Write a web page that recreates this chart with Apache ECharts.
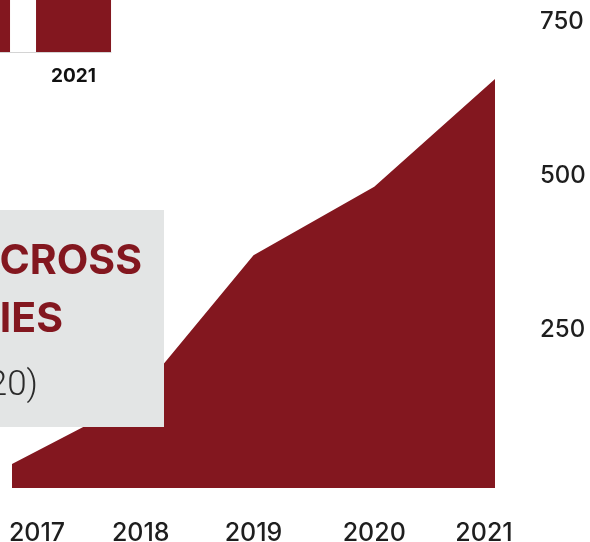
<!DOCTYPE html>
<html>
<head>
<meta charset="utf-8">
<script src="https://cdn.jsdelivr.net/npm/echarts@6/dist/echarts.min.js"></script>
<style>
html,body{margin:0;padding:0;background:#fff;}
#c{width:590px;height:542px;}
</style>
</head>
<body>
<div id="c"></div>
<script>
const years = ['2017', '2018', '2019', '2020', '2021'];
const values = [39, 141, 378, 489, 664];
const yMax = 750;
const yStep = 250;
const barYears = [2020, 2021];
const barValues = [100, 100];
const titleLines = ['GROWTH ACROSS', 'COUNTRIES', '(2016-2020)'];

const RED = '#83171f';
const FONT = 'Inter';

const xRich = {};
const shifts = [[0,0,0,50],[0,0,0,16],[0,0,0,0],[0,0,0,0],[0,22,0,0]];
shifts.forEach((p, i) => {
  xRich['p' + i] = { padding: p, fontFamily: FONT, fontSize: 25, fontWeight: 500, color: '#1e1e1e' };
});

const chart = echarts.init(document.getElementById('c'));
chart.setOption({
  animation: false,
  backgroundColor: '#fff',
  grid: [
    { left: 12, right: 95, top: 26, bottom: 54, containLabel: false, outerBoundsMode: 'none' },
    { left: 0, right: 479, top: 0, bottom: 490, containLabel: false, outerBoundsMode: 'none' }
  ],
  xAxis: [
    {
      gridIndex: 0, type: 'category', data: years, boundaryGap: false,
      axisLine: { show: false }, axisTick: { show: false },
      axisLabel: {
        margin: 45, verticalAlign: 'middle', interval: 0,
        formatter: (v, i) => '{p' + i + '|' + v + '}',
        rich: xRich
      }
    },
    {
      gridIndex: 1, type: 'value', min: 2020.272, max: 2021.371,
      splitLine: { show: false },
      axisLine: { show: true, lineStyle: { color: '#d4d4d4', width: 1 } },
      axisTick: { show: false },
      axisLabel: {
        customValues: barYears,
        margin: 24, verticalAlign: 'middle',
        formatter: (v) => (v === 2020 ? '{b0|' : '{b1|') + v + '}',
        rich: {
          b0: { fontFamily: FONT, fontWeight: 'bold', fontSize: 19, color: '#3a6fa0', padding: [0,0,0,14] },
          b1: { fontFamily: FONT, fontWeight: 'bold', fontSize: 19, color: '#111' }
        }
      }
    }
  ],
  yAxis: [
    {
      gridIndex: 0, type: 'value', position: 'right', min: 0, max: yMax, interval: yStep,
      axisLine: { show: false }, axisTick: { show: false }, splitLine: { show: false },
      axisLabel: {
        showMinLabel: false, margin: 45, verticalAlign: 'middle',
        formatter: (v) => '{v|' + v + '}',
        rich: { v: { fontFamily: FONT, fontSize: 24, fontWeight: 500, color: '#1e1e1e', padding: [0, 0, 8, 0] } }
      }
    },
    {
      gridIndex: 1, type: 'value', min: 0, max: 100, show: false
    }
  ],
  series: [
    {
      type: 'line', xAxisIndex: 0, yAxisIndex: 0, data: values,
      symbol: 'none', lineStyle: { width: 0 },
      areaStyle: { color: RED, opacity: 1 }, itemStyle: { color: RED }
    },
    {
      type: 'bar', xAxisIndex: 1, yAxisIndex: 1,
      data: barYears.map((y, i) => [y, barValues[i]]),
      barWidth: 75, itemStyle: { color: RED }
    }
  ],
  graphic: {
    elements: [
      { type: 'rect', z: 100, shape: { x: -10, y: 210, width: 174, height: 217 }, style: { fill: '#e3e5e5' } },
      { type: 'text', z: 101, x: 142, y: 262, style: { text: titleLines[0], textAlign: 'right', textVerticalAlign: 'middle', fontFamily: FONT, fontWeight: 'bold', fontSize: 41, fill: RED } },
      { type: 'text', z: 101, x: 63, y: 320, style: { text: titleLines[1], textAlign: 'right', textVerticalAlign: 'middle', fontFamily: FONT, fontWeight: 'bold', fontSize: 41, fill: RED } },
      { type: 'text', z: 101, x: 38, y: 386, style: { text: titleLines[2], textAlign: 'right', textVerticalAlign: 'middle', fontFamily: 'Roboto', fontWeight: 300, fontSize: 35, fill: '#2b2b2b' } }
    ]
  }
});
</script>
</body>
</html>
